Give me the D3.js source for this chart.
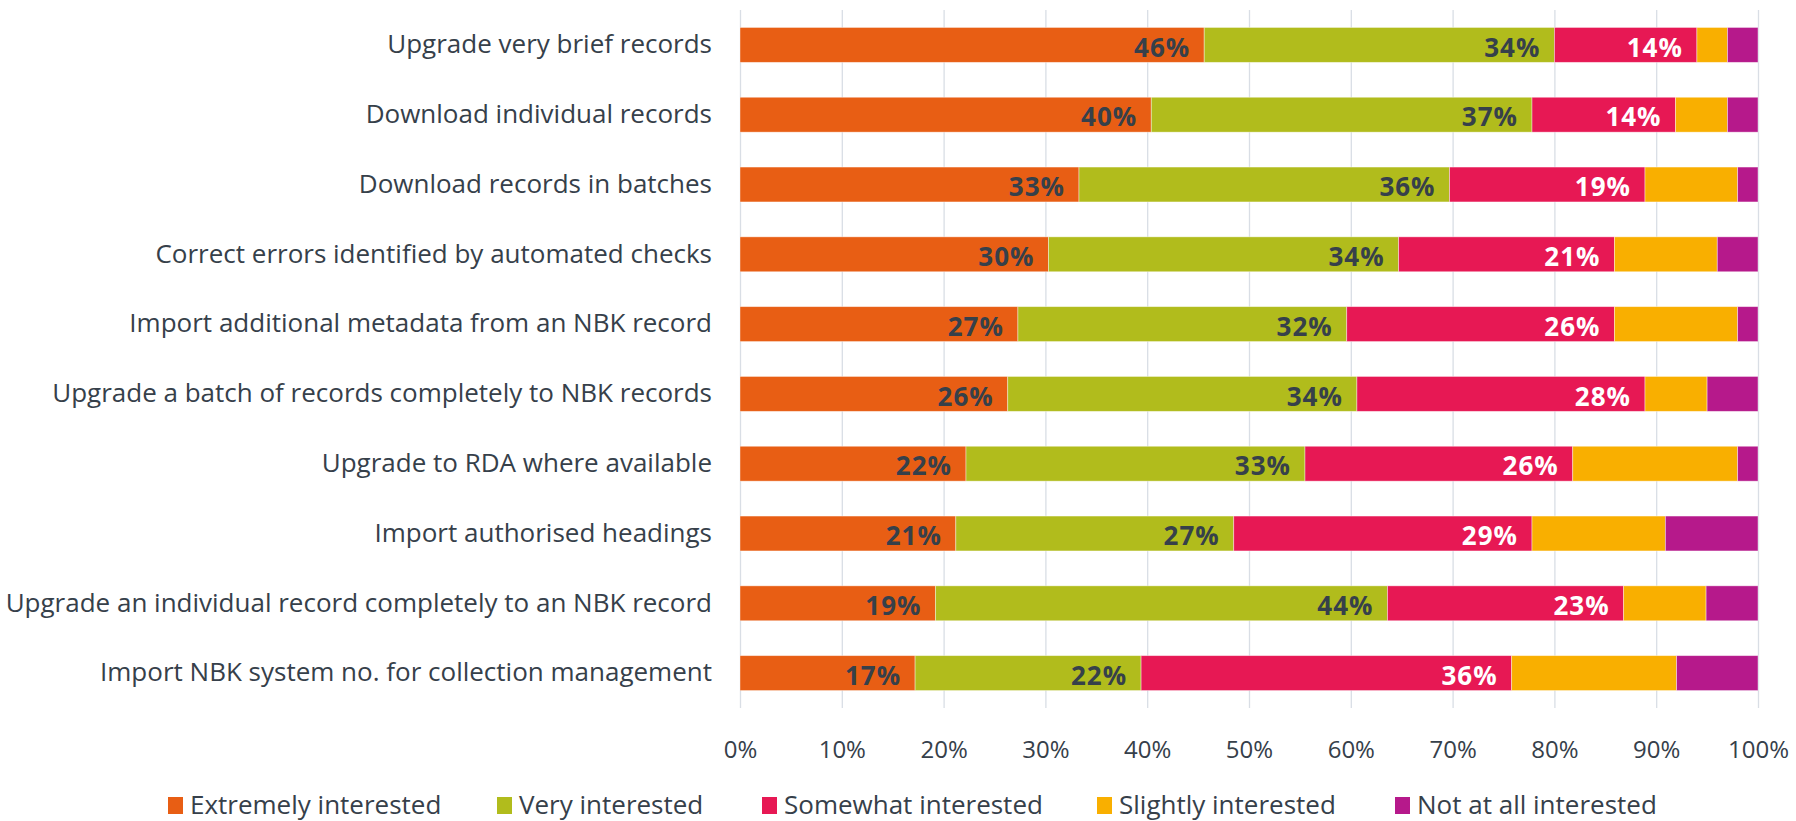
<!DOCTYPE html>
<html>
<head>
<meta charset="utf-8">
<script src="https://cdn.jsdelivr.net/npm/d3@7"></script>
<style>
  body { margin: 0; background: #fff; }
  svg text { font-family: "Open Sans", sans-serif; }
</style>
</head>
<body>
<div id="vis"></div>
<script>
const width = 1796, height = 821;

// Categories, top to bottom
const tasks = [
  "Upgrade very brief records",
  "Download individual records",
  "Download records in batches",
  "Correct errors identified by automated checks",
  "Import additional metadata from an NBK record",
  "Upgrade a batch of records completely to NBK records",
  "Upgrade to RDA where available",
  "Import authorised headings",
  "Upgrade an individual record completely to an NBK record",
  "Import NBK system no. for collection management"
];

const levels = ["Extremely interested", "Very interested", "Somewhat interested", "Slightly interested", "Not at all interested"];
const colors = ["#e85e14", "#b1bc1c", "#e71854", "#f9af00", "#b6198b"];

// Percent per level, one array per level (same order as tasks)
const extremely = [45.6, 40.4, 33.3, 30.3, 27.3, 26.3, 22.2, 21.2, 19.2, 17.2];
const very      = [34.4, 37.4, 36.4, 34.4, 32.3, 34.3, 33.3, 27.3, 44.4, 22.2];
const somewhat  = [14.0, 14.1, 19.2, 21.2, 26.3, 28.3, 26.3, 29.3, 23.2, 36.4];
const slightly  = [3.0, 5.1, 9.1, 10.1, 12.1, 6.1, 16.2, 13.1, 8.1, 16.2];
const notAtAll  = [3.0, 3.0, 2.0, 4.0, 2.0, 5.0, 2.0, 9.1, 5.1, 8.0];

const xTicks = [0, 10, 20, 30, 40, 50, 60, 70, 80, 90, 100];

const series = [extremely, very, somewhat, slightly, notAtAll];
const table = tasks.map((t, i) => {
  const row = { task: t };
  levels.forEach((l, j) => row[l] = series[j][i]);
  return row;
});
const stacked = d3.stack().keys(levels)(table);

const svg = d3.select("#vis").append("svg")
  .attr("width", width)
  .attr("height", height);

const plotTop = 10, plotBottom = 708, plotLeft = 740, plotRight = 1758;
const textColor = "#36404a";

const x = d3.scaleLinear().domain([0, 100]).range([plotLeft, plotRight]);
const y = d3.scaleBand().domain(tasks).range([plotTop, plotBottom])
  .paddingInner(0.5).paddingOuter(0.25);
const color = d3.scaleOrdinal().domain(levels).range(colors);

// grid + x axis
const xAxis = svg.append("g")
  .attr("transform", `translate(0, ${plotBottom})`)
  .call(d3.axisBottom(x).tickValues(xTicks).tickFormat(d => d + "%")
    .tickSize(-(plotBottom - plotTop)).tickPadding(33));
xAxis.select(".domain").remove();
xAxis.selectAll("line").attr("stroke", "#d9dee5").attr("stroke-width", 1.3);
xAxis.selectAll("text").attr("fill", textColor).style("font-size", "24px");

// y axis
const yAxis = svg.append("g")
  .attr("transform", `translate(${plotLeft}, 0)`)
  .call(d3.axisLeft(y).tickSize(0).tickPadding(28));
yAxis.select(".domain").remove();
yAxis.selectAll("text").attr("fill", textColor).style("font-size", "26px");

// bars
const groups = svg.append("g").selectAll("g")
  .data(stacked)
  .join("g")
  .attr("fill", d => color(d.key));

groups.selectAll("rect")
  .data(d => d)
  .join("rect")
  .attr("x", d => x(d[0]))
  .attr("y", d => y(d.data.task))
  .attr("width", d => x(d[1]) - x(d[0]))
  .attr("height", y.bandwidth())
  .attr("stroke", "#fff")
  .attr("stroke-opacity", 0.5)
  .attr("stroke-width", 0.8);

// value labels on first three levels
const labelled = stacked.slice(0, 3);
svg.append("g").selectAll("g")
  .data(labelled)
  .join("g")
  .attr("fill", (d, i) => i === 2 ? "#fff" : textColor)
  .selectAll("text")
  .data(d => d)
  .join("text")
  .attr("x", d => x(d[1]) - 14)
  .attr("y", d => y(d.data.task) + y.bandwidth() / 2)
  .attr("dy", "0.45em")
  .attr("text-anchor", "end")
  .style("font-size", "26px")
  .style("font-weight", "bold")
  .style("letter-spacing", "1px")
  .text(d => Math.round(d[1] - d[0]) + "%");

// legend
const legendX = [168, 497, 762, 1097, 1395];
const legend = svg.append("g").selectAll("g")
  .data(levels)
  .join("g")
  .attr("transform", (d, i) => `translate(${legendX[i]}, 805)`);
legend.append("rect")
  .attr("x", 0).attr("y", -8)
  .attr("width", 15).attr("height", 17)
  .attr("fill", d => color(d));
legend.append("text")
  .attr("x", 22)
  .attr("dy", "0.36em")
  .attr("fill", textColor)
  .style("font-size", "26px")
  .text(d => d);
</script>
</body>
</html>
